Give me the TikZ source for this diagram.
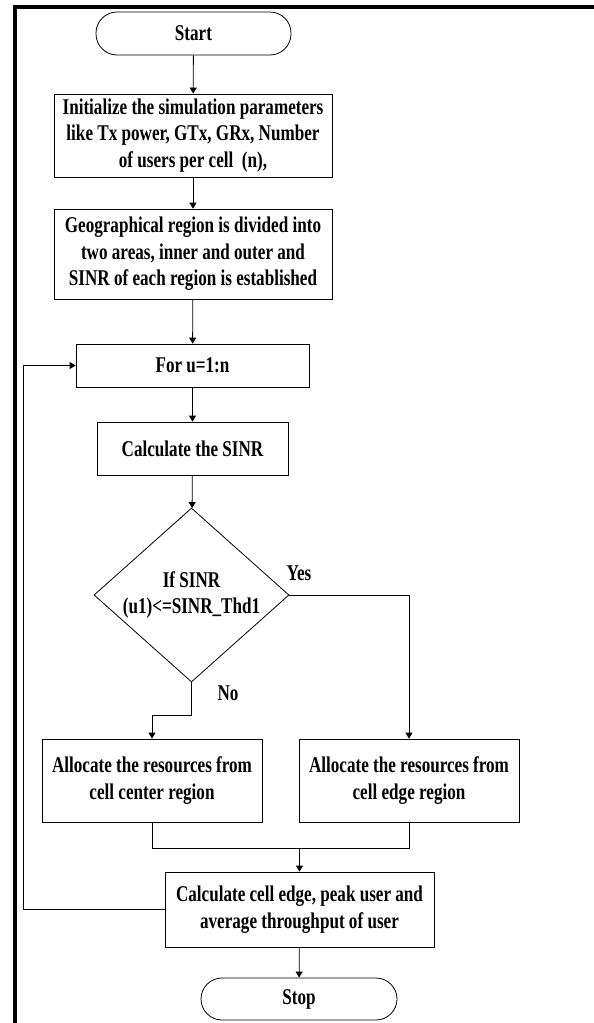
\documentclass[tikz,border=0pt]{standalone}
\usepackage{fontspec}
\setmainfont{Liberation Serif}[FakeStretch=0.76]
\usetikzlibrary{arrows.meta,shapes.geometric}

\begin{document}
\begin{tikzpicture}[x=1pt, y=-1pt,
    every node/.style = {font=\fontsize{22.5}{26.5}\selectfont\bfseries, align=center},
    box/.style        = {draw, line width=.8pt, inner sep=0pt},
    term/.style       = {box, rounded corners=21pt},
    arr/.style        = {line width=.8pt, -{Triangle[length=6pt, width=7pt]}},
    ln/.style         = {line width=.8pt}]
    \useasboundingbox (0,0) rectangle (594,1023);
    % frame
    \draw [line width=4pt] (15,1023) -- (15,6.7) -- (594,6.7);

    \node [term, minimum width=195, minimum height=43] (start) at (193.5,33.5) {Start};
    \node [box , minimum width=278, minimum height=83] (init)  at (193,135.5)
    {Initialize the simulation parameters\\like Tx power, GTx, GRx, Number\\of users per cell~~(n),};
    \node [box , minimum width=278, minimum height=90] (geo)   at (193,254)
    {Geographical region is divided into\\two areas, inner and outer and\\SINR of each region is established};
    \node [box , minimum width=233, minimum height=43] (for)   at (192.5,365.5) {For u=1:n};
    \node [box , minimum width=191, minimum height=53] (sinr)  at (192.5,448.5) {Calculate the SINR};
    \node [draw, ln, diamond, minimum width=195, minimum height=174, inner sep=0pt,
           label=center:{If SINR\\(u1)<=SINR\_Thd1}] (dec) at (191.5,595) {};
    \node [box , minimum width=220, minimum height=83] (center) at (152,780.5)
    {Allocate the resources from\\cell center region};
    \node [box , minimum width=220, minimum height=83] (edge)   at (409,780.5)
    {Allocate the resources from\\cell edge region};
    \node [box , minimum width=269, minimum height=75] (calc)   at (299.5,909.5)
    {Calculate cell edge, peak user and\\average throughput of user};
    \node [term, minimum width=196, minimum height=42] (stop)   at (299,999) {Stop};

    \coordinate (join) at (299.5,848);

    \draw [arr] (start) -- (init);
    \draw [arr] (init)  -- (geo);
    \draw [arr] (geo)   -- (for);
    \draw [arr] (for)   -- (sinr);
    \draw [arr] (sinr)  -- (dec);
    \draw [arr] (dec.east) -| (edge.north);
    \node (yes) at (299,573) {Yes};
    \draw [arr] (dec.south) -- ++(0,33) -| (center.north);
    \node (no) at (228,693) {No};
    \draw [ln ] (center.south) |- (join) -| (edge.south);
    \draw [arr] (join) -- (calc);
    \draw [arr] (calc.west) -- ++(-141,0) |- (for.west);
    \draw [arr] (calc)  -- (stop);
  \end{tikzpicture}
\end{document}
